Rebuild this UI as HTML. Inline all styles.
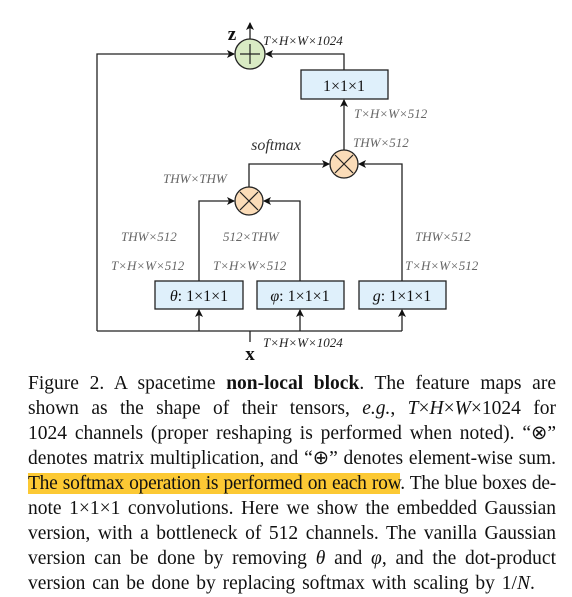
<!DOCTYPE html>
<html><head><meta charset="utf-8"><style>
body{margin:0;background:#fff;width:572px;height:597px;overflow:hidden;position:relative;font-family:"Liberation Serif",serif}
svg{position:absolute;left:0;top:0}
.cap{position:absolute;left:28px;width:528px;font-size:19.5px;line-height:25px;color:#111}
.ln{display:block;text-align:justify;text-align-last:justify;white-space:nowrap;height:25px}
.ln.last{text-align-last:left;word-spacing:2px}
.ln.tight{letter-spacing:-0.25px;word-spacing:-1.5px}
.hl{background:#fcc934}
</style></head><body>
<svg width="572" height="360">
<defs><marker id="ah" markerWidth="8" markerHeight="8" refX="7" refY="4" orient="auto" markerUnits="userSpaceOnUse"><path d="M0,0 L8,4 L0,8 L2,4z" fill="#111"/></marker></defs>
<g stroke="#222" stroke-width="1.3" fill="none">
<path d="M250,342 V331 M97,331 H402 M97,331 V54 H234" marker-end="url(#ah)"/>
<path d="M199,331 V310" marker-end="url(#ah)"/>
<path d="M300,331 V310" marker-end="url(#ah)"/>
<path d="M402,331 V310" marker-end="url(#ah)"/>
<path d="M199,281 V201 H234" marker-end="url(#ah)"/>
<path d="M300,281 V201 H264" marker-end="url(#ah)"/>
<path d="M249,187 V164 H329" marker-end="url(#ah)"/>
<path d="M402,281 V164 H359" marker-end="url(#ah)"/>
<path d="M344,150 V100" marker-end="url(#ah)"/>
<path d="M344,70 V54 H266" marker-end="url(#ah)"/>
<path d="M250,39 V23" marker-end="url(#ah)"/>
</g>
<g><circle cx="250" cy="54" r="15" fill="#d9ebc4" stroke="#222" stroke-width="1.3"/><path d="M240,54H260M250,44V64" stroke="#222" stroke-width="1.2"/></g>
<g><circle cx="344" cy="164" r="14" fill="#fbdcb8" stroke="#222" stroke-width="1.3"/><path d="M335,155L353,173M353,155L335,173" stroke="#222" stroke-width="1.2"/></g>
<g><circle cx="249" cy="201" r="14" fill="#fbdcb8" stroke="#222" stroke-width="1.3"/><path d="M240,192L258,210M258,192L240,210" stroke="#222" stroke-width="1.2"/></g>
<g fill="#dff0fb" stroke="#222" stroke-width="1.3">
<rect x="301" y="70" width="87" height="29"/>
<rect x="155" y="281" width="88" height="28"/>
<rect x="257" y="281" width="87" height="28"/>
<rect x="359" y="281" width="87" height="28"/>
</g>
<g font-family="Liberation Serif,serif" font-size="16" fill="#111" text-anchor="middle">
<text x="344" y="91">1×1×1</text>
<text x="199" y="301"><tspan font-style="italic">θ</tspan>: 1×1×1</text>
<text x="300" y="301"><tspan font-style="italic">φ</tspan>: 1×1×1</text>
<text x="402" y="301"><tspan font-style="italic">g</tspan>: 1×1×1</text>
<text x="232" y="40" font-weight="bold" font-size="19">z</text>
<text x="250" y="360" font-weight="bold" font-size="19">x</text>
<text x="276" y="150" font-style="italic" fill="#333">softmax</text>
</g>
<g font-family="Liberation Serif,serif" font-size="13" font-style="italic" fill="#666">
<text x="263" y="45" fill="#222">T×H×W×1024</text>
<text x="263" y="347" fill="#222">T×H×W×1024</text>
<text x="354" y="118">T×H×W×512</text>
<text x="353" y="147">THW×512</text>
<text x="163" y="183">THW×THW</text>
<text x="121" y="241">THW×512</text>
<text x="223" y="241">512×THW</text>
<text x="415" y="241">THW×512</text>
<text x="111" y="270">T×H×W×512</text>
<text x="213" y="270">T×H×W×512</text>
<text x="405" y="270">T×H×W×512</text>
</g>
</svg>
<div class="cap" style="top:371px">
<span class="ln">Figure 2. A spacetime <b>non-local block</b>. The feature maps are</span>
<span class="ln">shown as the shape of their tensors, <i>e.g.</i>, <i>T</i>×<i>H</i>×<i>W</i>×1024 for</span>
<span class="ln">1024 channels (proper reshaping is performed when noted). “⊗”</span>
<span class="ln">denotes matrix multiplication, and “⊕” denotes element-wise sum.</span>
<span class="ln tight"><span class="hl">The softmax operation is performed on each row</span>. The blue boxes de-</span>
<span class="ln">note 1×1×1 convolutions. Here we show the embedded Gaussian</span>
<span class="ln">version, with a bottleneck of 512 channels. The vanilla Gaussian</span>
<span class="ln">version can be done by removing <i>θ</i> and <i>φ</i>, and the dot-product</span>
<span class="ln last">version can be done by replacing softmax with scaling by 1/<i>N</i>.</span>
</div>
</body></html>
